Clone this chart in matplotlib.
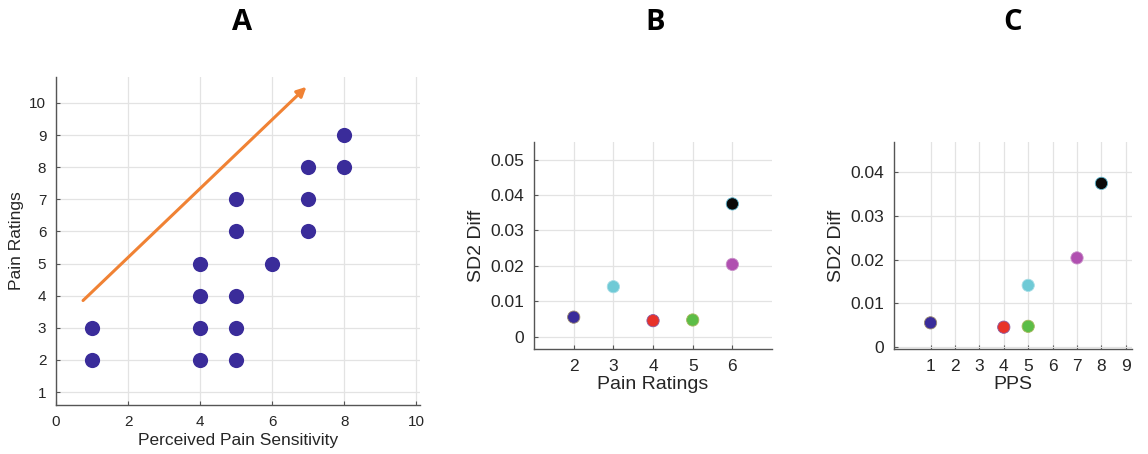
import numpy as np
import matplotlib
matplotlib.use('Agg')
import matplotlib.pyplot as plt

plt.rcParams['font.family'] = ['Liberation Sans', 'DejaVu Sans']

# panel A: perceived pain sensitivity vs pain ratings
pps_a = [1, 1, 4, 4, 4, 4, 5, 5, 5, 5, 5, 6, 7, 7, 7, 8, 8]
ratings_a = [2, 3, 2, 3, 4, 5, 2, 3, 4, 6, 7, 5, 6, 7, 8, 8, 9]
arrow_start = (0.75, 3.85)
arrow_end = (6.95, 10.5)

# panel B / C: SD2 diff per group
ratings_b = [2, 3, 4, 5, 6, 6]
pps_c = [1, 5, 4, 5, 8, 7]
sd2_diff = [0.0055, 0.0141, 0.0045, 0.0047, 0.0375, 0.0204]
dot_colors = ['#3a2c9a', '#6fcad6', '#e8322a', '#5cbd46', '#0a0a0a', '#b050b0']
edge_colors = ['#9a8a70', '#a8dde6', '#8a5aa0', '#a8b860', '#5fb8d0', '#c890c8']

ax_col = '#262626'
grid_col = '#e3e3e3'


def style(ax, fs):
    ax.spines['top'].set_visible(False)
    ax.spines['right'].set_visible(False)
    for s in ['left', 'bottom']:
        ax.spines[s].set_color('#555555')
        ax.spines[s].set_linewidth(1.0)
    ax.tick_params(direction='in', length=3, width=0.8, colors='#555555',
                   labelcolor=ax_col, labelsize=fs, pad=7)
    ax.grid(True, color=grid_col, linewidth=0.9)
    ax.set_axisbelow(True)


fig = plt.figure(figsize=(11.48, 4.54), dpi=100)

# ---- A ----
axA = fig.add_axes([0.0488, 0.108, 0.317, 0.722])
style(axA, 11)
axA.scatter(pps_a, ratings_a, s=120, color='#3a2c9a', zorder=3, linewidths=0)
axA.annotate('', xy=arrow_end, xytext=arrow_start,
             arrowprops=dict(arrowstyle='-|>', color='#f08234', lw=2.2,
                             mutation_scale=14, shrinkA=0, shrinkB=0))
axA.set_xlim(0, 10.1)
axA.set_ylim(0.6, 10.8)
axA.set_xticks([0, 2, 4, 6, 8, 10])
axA.set_yticks(range(1, 11))
axA.set_xlabel('Perceived Pain Sensitivity', fontsize=12.5, color=ax_col, labelpad=3)
axA.set_ylabel('Pain Ratings', fontsize=12.5, color=ax_col, labelpad=4)

# ---- B ----
axB = fig.add_axes([0.4652, 0.2313, 0.2073, 0.456])
style(axB, 12.5)
axB.scatter(ratings_b, sd2_diff, s=78, c=dot_colors, edgecolors=edge_colors,
            linewidths=0.6, zorder=3)
axB.set_xlim(1, 7)
axB.set_ylim(-0.0035, 0.055)
axB.set_xticks([2, 3, 4, 5, 6])
axB.set_yticks([0, 0.01, 0.02, 0.03, 0.04, 0.05])
axB.set_yticklabels(['0', '0.01', '0.02', '0.03', '0.04', '0.05'])
axB.set_xlabel('Pain Ratings', fontsize=14, color=ax_col, labelpad=2)
axB.set_ylabel('SD2 Diff', fontsize=14, color=ax_col, labelpad=4)

# ---- C ----
axC = fig.add_axes([0.7787, 0.2313, 0.2073, 0.456])
style(axC, 12.5)
axC.scatter(pps_c, sd2_diff, s=78, c=dot_colors, edgecolors=edge_colors,
            linewidths=0.6, zorder=3)
axC.set_xlim(-0.5, 9.25)
axC.set_ylim(-0.0005, 0.047)
axC.set_xticks(range(1, 10))
axC.set_yticks([0, 0.01, 0.02, 0.03, 0.04])
axC.set_yticklabels(['0', '0.01', '0.02', '0.03', '0.04'])
axC.set_xlabel('PPS', fontsize=14, color=ax_col, labelpad=2)
axC.set_ylabel('SD2 Diff', fontsize=14, color=ax_col, labelpad=4)

for label, x in [('A', 242), ('B', 655), ('C', 1013)]:
    fig.text(x / 1148, 1 - 22 / 454, label, fontsize=21, fontweight='bold',
             family=['Open Sans', 'DejaVu Sans'],
             ha='center', va='center', color='black')

fig.savefig('out.png', dpi=100)
